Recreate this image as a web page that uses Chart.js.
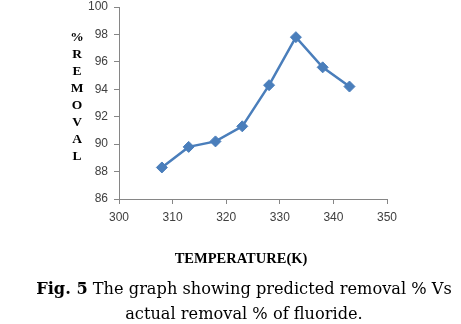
<!DOCTYPE html>
<html>
<head>
<meta charset="utf-8">
<script src="https://cdn.jsdelivr.net/npm/chart.js@4.4.0/dist/chart.umd.min.js"></script>
<style>
  body { margin: 0; background: #fff; }
  #wrap { position: relative; width: 461px; height: 324px; overflow: hidden; }
  #chart { position: absolute; left: 0; top: 0; }
  .ytitle {
    position: absolute; left: 67px; top: 28px; width: 20px;
    font: bold 13.5px "Liberation Serif", serif; line-height: 17px;
    text-align: center; color: #000;
  }
  .xtitle {
    position: absolute; left: 0; width: 482px; top: 250px;
    font: bold 14.5px "Liberation Serif", serif;
    text-align: center; color: #000;
  }
  .caption {
    position: absolute; left: 0; width: 488px; top: 276px;
    font: 16.2px "DejaVu Serif", serif; line-height: 25px;
    text-align: center; color: #000;
  }
</style>
</head>
<body>
<div id="wrap">
  <canvas id="chart" width="461" height="324"></canvas>
  <div class="ytitle">%<br>R<br>E<br>M<br>O<br>V<br>A<br>L</div>
  <div class="xtitle">TEMPERATURE(K)</div>
  <div class="caption"><b>Fig. 5</b> The graph showing predicted removal % Vs<br>actual removal % of fluoride.</div>
</div>
<script>
// temperature (K) and % removal
const temperatures = [308, 313, 318, 323, 328, 333, 338, 343];
const removal = [88.3, 89.8, 90.2, 91.3, 94.3, 97.8, 95.6, 94.2];

const lineColor = '#4a7ebb';
const axisColor = '#868686';

const points = temperatures.map((t, i) => ({ x: t, y: removal[i] }));

new Chart(document.getElementById('chart').getContext('2d'), {
    type: 'line',
    data: {
        datasets: [{
            data: points,
            borderColor: lineColor,
            backgroundColor: lineColor,
            borderWidth: 2.5,
            pointStyle: 'rectRot',
            pointRadius: 5.5,
            pointBorderWidth: 1,
            pointBackgroundColor: lineColor,
            tension: 0
        }]
    },
    options: {
        responsive: false,
        animation: false,
        layout: { padding: { top: 7, right: 74, left: 0, bottom: 0 } },
        plugins: { legend: { display: false }, tooltip: { enabled: false } },
        scales: {
            x: {
                type: 'linear',
                min: 300, max: 350,
                ticks: { stepSize: 10, padding: 6, color: '#404040', font: { family: 'Liberation Sans', size: 12 } },
                grid: { drawOnChartArea: false, tickLength: 5, color: axisColor },
                border: { color: axisColor },
                afterFit: function (scale) { scale.height = 125; scale.paddingLeft = 0; scale.paddingRight = 0; }
            },
            y: {
                min: 86, max: 100,
                ticks: { stepSize: 2, padding: 6, color: '#404040', font: { family: 'Liberation Sans', size: 12 } },
                grid: { drawOnChartArea: false, tickLength: 5, color: axisColor },
                border: { color: axisColor },
                afterFit: function (scale) { scale.width = 119; scale.paddingTop = 0; scale.paddingBottom = 0; }
            }
        }
    }
});
</script>
</body>
</html>
